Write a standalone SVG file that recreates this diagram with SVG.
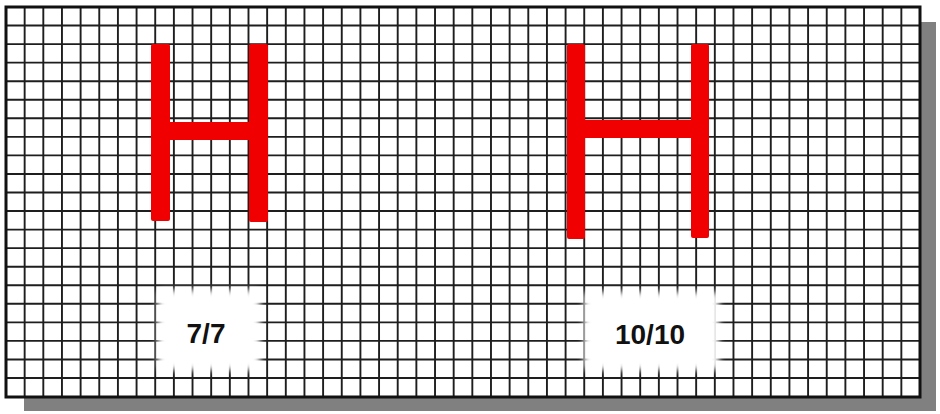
<svg xmlns="http://www.w3.org/2000/svg" width="940" height="414" viewBox="0 0 940 414">
  <defs>
    <style>
      .grid { stroke: #1e1e1e; stroke-width: 1.9; fill: none; }
      .hbar { fill: #f00000; }
      .lbl { font-family: "Liberation Sans", Arial, sans-serif; font-weight: bold; font-size: 28px; fill: #111; text-anchor: middle; }
    </style>
    <filter id="soft" x="-20%" y="-20%" width="140%" height="140%">
      <feGaussianBlur stdDeviation="3"/>
    </filter>
  </defs>
  <rect x="0" y="0" width="940" height="414" fill="#ffffff"/>
  <g id="shadow">
    <rect x="24" y="22" width="912" height="389" fill="#808080"/>
  </g>
  <g id="panel">
    <rect x="6" y="7" width="914" height="390" fill="#ffffff"/>
    <path class="grid" d="M24.65 7V397M43.31 7V397M61.96 7V397M80.61 7V397M99.27 7V397M117.92 7V397M136.57 7V397M155.22 7V397M173.88 7V397M192.53 7V397M211.18 7V397M229.84 7V397M248.49 7V397M267.14 7V397M285.8 7V397M304.45 7V397M323.1 7V397M341.76 7V397M360.41 7V397M379.06 7V397M397.71 7V397M416.37 7V397M435.02 7V397M453.67 7V397M472.33 7V397M490.98 7V397M509.63 7V397M528.29 7V397M546.94 7V397M565.59 7V397M584.24 7V397M602.9 7V397M621.55 7V397M640.2 7V397M658.86 7V397M677.51 7V397M696.16 7V397M714.82 7V397M733.47 7V397M752.12 7V397M770.78 7V397M789.43 7V397M808.08 7V397M826.73 7V397M845.39 7V397M864.04 7V397M882.69 7V397M901.35 7V397"/>
    <path class="grid" d="M6 25.55H920M6 44.1H920M6 62.65H920M6 81.2H920M6 99.75H920M6 118.3H920M6 136.85H920M6 155.4H920M6 173.95H920M6 192.5H920M6 211.05H920M6 229.6H920M6 248.15H920M6 266.7H920M6 285.25H920M6 303.8H920M6 322.35H920M6 340.9H920M6 359.45H920M6 378H920"/>
    <rect x="6" y="7" width="914" height="390" fill="none" stroke="#111" stroke-width="3"/>
  </g>
  <g id="h-left">
    <rect class="hbar" x="151" y="44" width="19" height="177" rx="2"/>
    <rect class="hbar" x="249" y="44" width="19" height="178" rx="2"/>
    <rect class="hbar" x="168" y="122" width="83" height="18"/>
  </g>
  <g id="h-right">
    <rect class="hbar" x="567" y="44" width="18" height="195" rx="2"/>
    <rect class="hbar" x="691" y="44" width="18" height="194" rx="2"/>
    <rect class="hbar" x="583" y="120" width="110" height="18"/>
  </g>
  <g id="label-7-7">
    <rect x="158" y="290" width="102" height="80" rx="4" fill="#ffffff" filter="url(#soft)"/>
    <text class="lbl" x="206" y="343">7/7</text>
  </g>
  <g id="label-10-10">
    <rect x="584" y="292" width="135" height="78" rx="4" fill="#ffffff" filter="url(#soft)"/>
    <text class="lbl" x="650" y="344">10/10</text>
  </g>
</svg>
